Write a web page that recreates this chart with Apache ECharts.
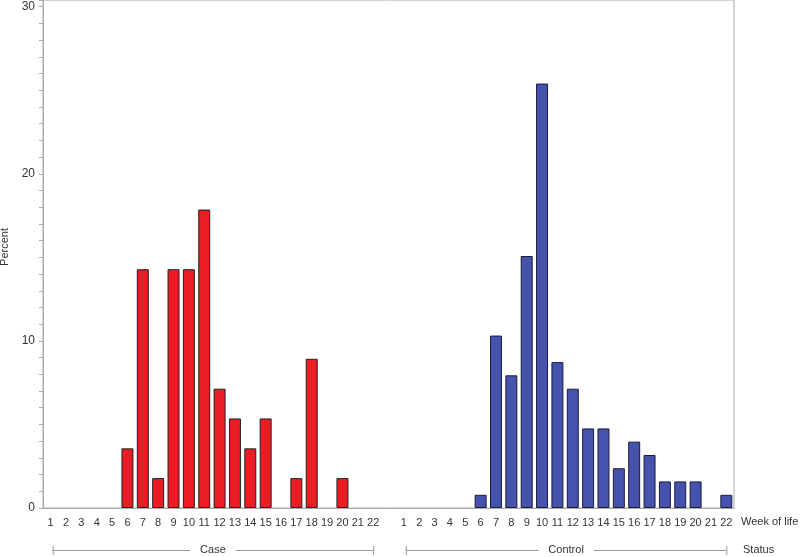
<!DOCTYPE html>
<html>
<head>
<meta charset="utf-8">
<script src="https://cdn.jsdelivr.net/npm/echarts@6/dist/echarts.min.js"></script>
<style>
  html, body { margin: 0; padding: 0; background: #fff; }
  #chart { width: 800px; height: 557px; }
</style>
</head>
<body>
<div id="chart"></div>
<script>
// week of life, same for both groups
var weeks = ['1','2','3','4','5','6','7','8','9','10','11','12','13','14','15','16','17','18','19','20','21','22'];
var groups = ['Case', 'Control'];
// percent per week (0 = no bar)
var caseValues = [0, 0, 0, 0, 0, 3.57, 14.29, 1.79, 14.29, 14.29, 17.86, 7.14, 5.36, 3.57, 5.36, 0, 1.79, 8.93, 0, 1.79, 0, 0];
var controlValues = [0, 0, 0, 0, 0, 0.79, 10.32, 7.94, 15.08, 25.40, 8.73, 7.14, 4.76, 4.76, 2.38, 3.97, 3.17, 1.59, 1.59, 1.59, 0, 0.79];
var yTicks = [0, 10, 20, 30];

window.onload = function () {
  var chart = echarts.init(document.getElementById('chart'));
  var ff = 'Liberation Sans, Arial, sans-serif';

  // one axis: case weeks, a blank slot, control weeks
  var cats = [];
  weeks.forEach(function (w) { cats.push('Case|' + w); });
  cats.push('gap|');
  weeks.forEach(function (w) { cats.push('Control|' + w); });

  var pad = weeks.map(function () { return null; }).concat([null]);
  var caseData = caseValues.map(function (v) { return v || null; }).concat(pad);
  var controlData = pad.concat(controlValues.map(function (v) { return v || null; }));

  var option = {
    animation: false,
    grid: {
      left: 43, right: 66, top: 0, bottom: 49,
      outerBoundsMode: 'none', containLabel: false,
      show: true, borderColor: '#aaa', borderWidth: 1
    },
    xAxis: {
      type: 'category',
      data: cats,
      axisLine: { lineStyle: { color: '#aaa' } },
      axisTick: { show: false },
      axisLabel: {
        interval: 0, margin: 9, color: '#333', fontSize: 11, fontFamily: ff,
        formatter: function (v) { return v.split('|')[1]; }
      }
    },
    yAxis: {
      type: 'value',
      min: 0, max: 30.4, interval: 1,
      name: 'Percent', nameLocation: 'middle', nameRotate: 90, nameGap: 32,
      nameTextStyle: { color: '#333', fontSize: 11, fontFamily: ff, padding: [0, 0, 0, 14] },
      axisLine: { show: true, lineStyle: { color: '#aaa' } },
      axisTick: { show: true, length: 4, lineStyle: { color: '#aaa' } },
      splitLine: { show: false },
      axisLabel: {
        color: '#333', fontSize: 12, margin: 8, fontFamily: ff,
        formatter: function (v) { return yTicks.indexOf(v) >= 0 ? String(v) : ''; }
      }
    },
    series: [
      {
        name: groups[0], type: 'bar', data: caseData,
        barGap: '-100%', barCategoryGap: '22%',
        itemStyle: { color: '#ec1c24', borderColor: '#222', borderWidth: 1 }
      },
      {
        name: groups[1], type: 'bar', data: controlData,
        barGap: '-100%', barCategoryGap: '22%',
        itemStyle: { color: '#4653ad', borderColor: '#1c1c3c', borderWidth: 1 }
      }
    ]
  };
  chart.setOption(option);

  // group brackets under the week labels
  var font = '11px ' + ff;
  var by = 550;
  var els = [];
  groups.forEach(function (g, gi) {
    var i0 = gi * (weeks.length + 1);
    var x0 = chart.convertToPixel({ xAxisIndex: 0 }, i0) + 2;
    var x1 = chart.convertToPixel({ xAxisIndex: 0 }, i0 + weeks.length - 1);
    var style = { stroke: '#999', lineWidth: 1 };
    els.push({ type: 'line', shape: { x1: x0, y1: by + 0.5, x2: x1, y2: by + 0.5 }, style: style });
    els.push({ type: 'line', shape: { x1: x0 + 0.5, y1: by - 4, x2: x0 + 0.5, y2: by + 5 }, style: style });
    els.push({ type: 'line', shape: { x1: x1 + 0.5, y1: by - 4, x2: x1 + 0.5, y2: by + 5 }, style: style });
    els.push({
      type: 'text', x: (x0 + x1) / 2, y: by, z: 10,
      style: {
        text: g, font: font, fill: '#333', align: 'center', verticalAlign: 'middle',
        backgroundColor: '#fff', padding: [0, 10]
      }
    });
  });
  els.push({ type: 'text', x: 741, y: 522, style: { text: 'Week of life', font: font, fill: '#333', verticalAlign: 'middle' } });
  els.push({ type: 'text', x: 743, y: 550, style: { text: 'Status', font: font, fill: '#333', verticalAlign: 'middle' } });
  chart.setOption({ graphic: els });
};
</script>
</body>
</html>
